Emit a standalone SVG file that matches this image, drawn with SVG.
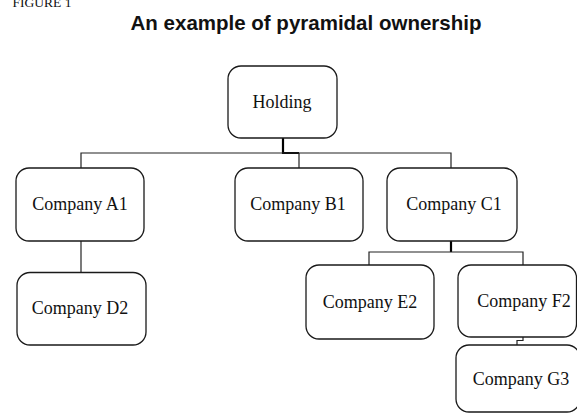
<svg xmlns="http://www.w3.org/2000/svg" width="577" height="413" viewBox="0 0 577 413">
<style>
.box{fill:#fff;stroke:#1a1a1a;stroke-width:1.3}
.lbl{font-family:"Liberation Serif","Times New Roman",serif;font-size:18px;fill:#111;text-anchor:middle}
.con{fill:none;stroke:#222;stroke-width:1.2}
.thick{fill:none;stroke:#000;stroke-width:2.2}
</style>
<rect width="577" height="413" fill="#fff"/>
<text x="12.5" y="7" font-family="Liberation Serif,serif" font-size="13.5" fill="#111">FIGURE 1</text>
<text x="306" y="30" font-family="Liberation Sans,Arial,sans-serif" font-size="20.5" font-weight="bold" fill="#111" text-anchor="middle">An example of pyramidal ownership</text>
<g id="connectors">
<path class="thick" d="M283 138 V153 H299"/>
<path class="con" d="M81 168 V153 H451 V168"/>
<path class="con" d="M299 153 V168"/>
<path class="con" d="M81 241 V272.5"/>
<path class="thick" d="M451 241 V252"/>
<path class="con" d="M369 265 V252 H523 V265"/>
<path class="con" d="M523 337 V340.5 H517 V345"/>
</g>
<g id="holding"><rect class="box" x="228" y="66" width="109" height="72" rx="13"/><text class="lbl" x="282" y="108">Holding</text></g>
<g id="a1"><rect class="box" x="16" y="168" width="128" height="73" rx="13"/><text class="lbl" x="80" y="210">Company A1</text></g>
<g id="b1"><rect class="box" x="235" y="168" width="128" height="73" rx="13"/><text class="lbl" x="298" y="210">Company B1</text></g>
<g id="c1"><rect class="box" x="387" y="168" width="130" height="73" rx="13"/><text class="lbl" x="454" y="210">Company C1</text></g>
<g id="d2"><rect class="box" x="17" y="272.5" width="129" height="72.5" rx="13"/><text class="lbl" x="80" y="314">Company D2</text></g>
<g id="e2"><rect class="box" x="306" y="265" width="128" height="74" rx="13"/><text class="lbl" x="370" y="308">Company E2</text></g>
<g id="f2"><rect class="box" x="458" y="265" width="118.5" height="72" rx="13"/><text class="lbl" x="524" y="307">Company F2</text></g>
<g id="g3"><rect class="box" x="456" y="345" width="124" height="67" rx="13"/><text class="lbl" x="521" y="385">Company G3</text></g>
</svg>
